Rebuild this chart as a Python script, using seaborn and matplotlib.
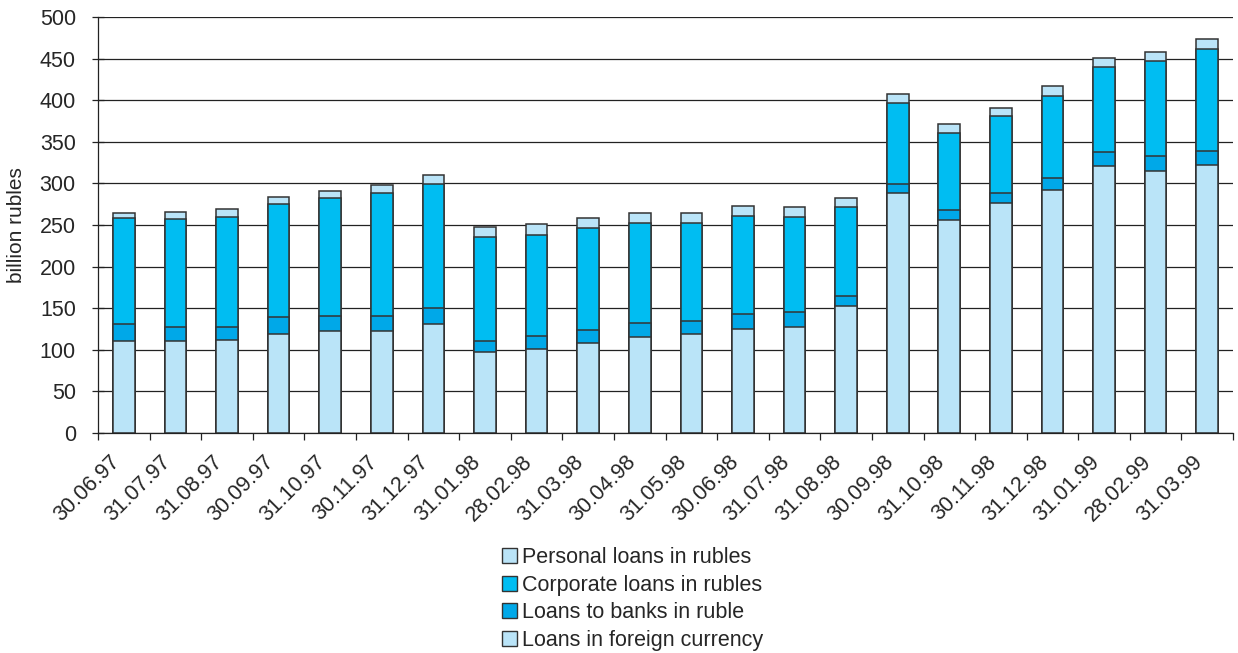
import matplotlib
matplotlib.use("Agg")
import matplotlib.pyplot as plt
import matplotlib.transforms as mtransforms
import seaborn as sns
import numpy as np
import pandas as pd
from matplotlib.patches import Patch

dates = ["30.06.97", "31.07.97", "31.08.97", "30.09.97", "31.10.97", "30.11.97",
         "31.12.97", "31.01.98", "28.02.98", "31.03.98", "30.04.98", "31.05.98",
         "30.06.98", "31.07.98", "31.08.98", "30.09.98", "31.10.98", "30.11.98",
         "31.12.98", "31.01.99", "28.02.99", "31.03.99"]
foreign = [111, 110, 112, 119, 122, 123, 131, 97, 101, 108, 115, 119, 125, 128, 153,
           288, 256, 276, 292, 321, 315, 322]
banks = [20, 18, 16, 20, 19, 18, 19, 14, 16, 16, 17, 16, 18, 17, 12,
         11, 12, 13, 14, 17, 18, 17]
corporate = [127, 129, 132, 136, 141, 147, 149, 124, 121, 122, 120, 117, 118, 115, 107,
             98, 93, 92, 99, 102, 114, 123]
personal = [7, 9, 9, 9, 9, 10, 11, 12, 13, 13, 13, 12, 12, 12, 11,
            10, 10, 10, 12, 11, 11, 12]

series_names = ["Loans in foreign currency", "Loans to banks in ruble",
                "Corporate loans in rubles", "Personal loans in rubles"]
colors = ["#BAE4F8", "#00A8E8", "#00BDF2", "#BAE4F8"]

sns.set_theme(style="white")
plt.rcParams['font.family'] = ['Liberation Sans', 'DejaVu Sans']

fig = plt.figure(figsize=(12.38, 6.53), dpi=100)
ax = fig.add_axes([0.0792, 0.3369, 0.9168, 0.6371])

df = pd.DataFrame({"date": dates, "foreign": foreign, "banks": banks,
                   "corporate": corporate, "personal": personal})
layers = [df["foreign"], df["banks"], df["corporate"], df["personal"]]
cum = np.cumsum(np.vstack(layers), axis=0)

ax.set_axisbelow(True)
ax.yaxis.grid(True, color="#222222", linewidth=0.9)
for i in range(3, -1, -1):
    sns.barplot(x=df["date"], y=cum[i], order=dates, color=colors[i], saturation=1,
                width=0.42, edgecolor="#333333", linewidth=1.1, ax=ax, zorder=2)

ax.set_ylim(0, 500)
ax.set_xlim(-0.5, len(dates) - 0.5)
ax.set_yticks(np.arange(0, 501, 50))
ax.tick_params(axis="y", labelsize=15.5, length=8, direction="inout", width=0.9,
               color="#222222", pad=12, left=True)
ax.set_xticks(range(len(dates)))
ax.set_xticklabels(dates, rotation=45, ha="right", rotation_mode="anchor", fontsize=15.5)
ax.tick_params(axis="x", length=0, pad=6)
ax.set_xticks(np.arange(-0.5, len(dates) + 0.5, 1), minor=True)
ax.tick_params(axis="x", which="minor", length=5, direction="out", width=0.9,
               color="#222222", bottom=True)
offset = mtransforms.ScaledTranslation(-0.15, -0.10, fig.dpi_scale_trans)
for lab in ax.get_xticklabels():
    lab.set_transform(lab.get_transform() + offset)

ax.set_xlabel("")
ax.set_ylabel("billion rubles", fontsize=15)
ax.yaxis.set_label_coords(-0.0635, 0.5)

for s in ["top", "right"]:
    ax.spines[s].set_visible(False)
for s in ["left", "bottom"]:
    ax.spines[s].set_color("#222222")
    ax.spines[s].set_linewidth(0.9)

handles = [Patch(facecolor=colors[i], edgecolor="#333333", linewidth=1,
                 label=series_names[i]) for i in range(3, -1, -1)]
fig.legend(handles=handles, loc="upper center", bbox_to_anchor=(0.511, 0.185),
           frameon=False, fontsize=15.5, handlelength=0.7, handleheight=0.7,
           handletextpad=0.25, labelspacing=0.3, borderpad=0.2)

fig.savefig("out.png", dpi=100)
